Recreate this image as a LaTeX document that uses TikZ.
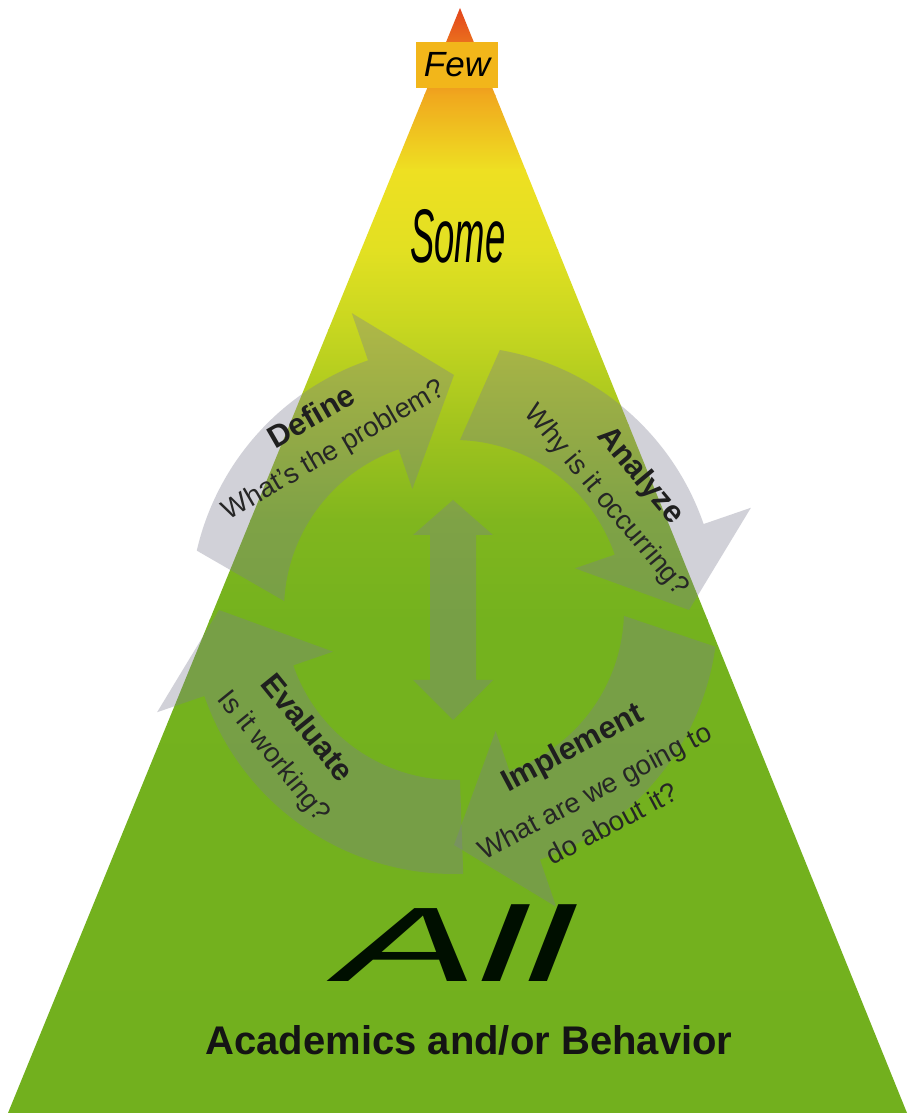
\documentclass[tikz,border=0pt]{standalone}
\usepackage{fontspec}
\setmainfont{Liberation Sans}
\usetikzlibrary{calc}
\definecolor{g0}{RGB}{226,62,28}
\definecolor{g1}{RGB}{236,122,30}
\definecolor{g2}{RGB}{240,168,30}
\definecolor{g3}{RGB}{238,224,34}
\definecolor{g4}{RGB}{226,224,34}
\definecolor{g5}{RGB}{198,214,32}
\definecolor{g6}{RGB}{162,196,30}
\definecolor{g7}{RGB}{128,182,30}
\definecolor{g8}{RGB}{116,178,30}
\definecolor{g9}{RGB}{114,176,30}
\definecolor{fewgold}{RGB}{242,182,26}
\definecolor{ringgray}{RGB}{125,125,145}
% #1 tail outer angle, #2 tail inner angle, #3 head base angle, #4 tip angle
\newcommand{\ringarrow}[4]{%
  \fill[ringfill] ([shift={(c)}]#1:264pt) arc[start angle=#1, end angle=#3, radius=264pt]
    -- ([shift={(c)}]#3:314pt) -- ([shift={(c)}]#4:235pt) -- ([shift={(c)}]#3:128pt)
    -- ([shift={(c)}]#3:170pt) arc[start angle=#3, end angle=#2, radius=170pt] -- cycle;}
\begin{document}
\begin{tikzpicture}[x=1pt,y=1pt,
  ringfill/.style={fill=ringgray, fill opacity=0.35},
  ttl/.style={text=black!88, inner sep=0pt, font=\fontsize{31}{34}\selectfont\bfseries},
  sub/.style={text=black!85, inner sep=0pt, align=center, font=\fontsize{27.5}{37}\selectfont}]
\useasboundingbox (0,0) rectangle (907,1113);
\fill[white] (0,0) rectangle (907,1113);
\coordinate (apex) at (460,1105);
\coordinate (bl) at (8,0);
\coordinate (br) at (907,0);
\begin{scope}
  \clip (apex) -- (bl) -- (br) -- cycle;
  \shade[top color=g0, bottom color=g1] (0,1062) rectangle (907,1110);
  \shade[top color=g1, bottom color=g2] (0,1017) rectangle (907,1063);
  \shade[top color=g2, bottom color=g3] (0,942) rectangle (907,1018);
  \shade[top color=g3, bottom color=g4] (0,862) rectangle (907,943);
  \shade[top color=g4, bottom color=g5] (0,782) rectangle (907,863);
  \shade[top color=g5, bottom color=g6] (0,687) rectangle (907,783);
  \shade[top color=g6, bottom color=g7] (0,592) rectangle (907,688);
  \shade[top color=g7, bottom color=g8] (0,492) rectangle (907,593);
  \shade[top color=g8, bottom color=g9] (0,-1) rectangle (907,493);
\end{scope}
% cycle
\coordinate (c) at (454,503);
\ringarrow{167}{177}{109}{90}
\ringarrow{80}{88}{19}{0}
\ringarrow{-8}{-2}{-71}{-90}
\ringarrow{-88}{-88}{-161}{-180}
% central double arrow
\coordinate (dtop) at (453,613);
\coordinate (dbot) at (453,393);
\fill[ringfill] (dtop) -- ++(40,-35) -- ++(-17,0) -- ++(0,-145) -- ++(17,0)
  -- (dbot) -- ++(-40,40) -- ++(17,0) -- ++(0,145) -- ++(-17,0) -- cycle;
% labels
\node[ttl, rotate=30] (define) at (311,697) {Define};
\node[sub, rotate=30] (definesub) at (334,662) {What’s the problem?};
\node[ttl, rotate=-50] (analyze) at (640,637) {Analyze};
\node[sub, rotate=-50] (analyzesub) at (606,612) {Why is it occurring?};
\node[ttl, rotate=-51] (evaluate) at (308,386) {Evaluate};
\node[sub, rotate=-51] (evaluatesub) at (273,356) {Is it working?};
\node[ttl, rotate=28] (implement) at (573,364) {Implement};
\node[sub, rotate=28] (implementsub) at (603,306) {What are we going to\\do about it?};
% tiers
\node[fill=fewgold, minimum width=82pt, minimum height=46pt, inner sep=0pt,
  font=\fontsize{35}{40}\selectfont\itshape] (few) at (457,1048) {Few};
\node[inner sep=0pt, xscale=0.48, transform shape,
  font=\fontsize{76}{80}\selectfont\itshape] (some) at (458,877) {Some};
\node[inner sep=0pt, xscale=2.0, transform shape, text=black!90!green!60!black,
  font=\fontsize{106}{110}\selectfont\itshape] (all) at (455,170) {All};
\node[inner sep=0pt, text=black!92,
  font=\fontsize{40}{44}\selectfont\bfseries] (acad) at (469,73) {Academics and/or Behavior};
\end{tikzpicture}
\end{document}
